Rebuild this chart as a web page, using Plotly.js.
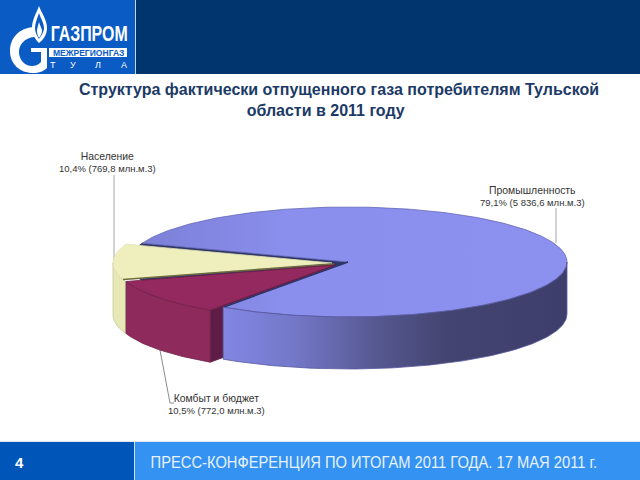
<!DOCTYPE html>
<html>
<head>
<meta charset="utf-8">
<script src="https://cdn.plot.ly/plotly-3.0.1.min.js"></script>
<style>html,body{margin:0;padding:0;background:#fff}#chart{width:640px;height:480px}</style>
</head>
<body>
<div id="chart"></div>
<script>
// ---- data
const categories = ['Население', 'Комбыт и бюджет', 'Промышленность'];
const sharesPct = [10.4, 10.5, 79.1];
const shareLabels = ['10,4%', '10,5%', '79,1%'];
const volumeLabels = ['769,8', '772,0', '5\u00A0836,6'];
const unitLabel = 'млн.м.3';
const titleLine1 = 'Структура фактически отпущенного газа потребителям Тульской';
const titleLine2 = 'области в 2011 году';
const footerText = 'ПРЕСС-КОНФЕРЕНЦИЯ ПО ИТОГАМ 2011 ГОДА. 17 МАЯ 2011 г.';
const pageNumber = '4';

// ---- pie geometry (style, not data)
const rx = 219, ry = 55, depth = 52, startAngle = 160;
const centres = [{x: 332, y: 263}, {x: 335, y: 265}, {x: 348, y: 262}];

const angles = [];
let a0 = startAngle;
sharesPct.forEach(s => { const a1 = a0 + s * 3.6; angles.push([a0, a1]); a0 = a1; });

const pt = (c, t, d = 0) => {
  const r = t * Math.PI / 180;
  return [c.x + rx * Math.cos(r), c.y - ry * Math.sin(r) + d];
};
const arc = (c, t0, t1, d = 0) => {
  const out = [], n = Math.max(2, Math.ceil(Math.abs(t1 - t0)));
  for (let i = 0; i <= n; i++) out.push(pt(c, t0 + (t1 - t0) * i / n, d));
  return out;
};
const wedge = (c, t0, t1) => [[c.x, c.y], ...arc(c, t0, t1), [c.x, c.y]];
const wall = (c, t0, t1) => [...arc(c, t0, t1), ...arc(c, t1, t0, depth), pt(c, t0)];
const inner = (c, t) => [[c.x, c.y], pt(c, t), pt(c, t, depth), [c.x, c.y + depth], [c.x, c.y]];

const poly = (pts, fill, line, extra = {}) => Object.assign({
  type: 'scatter', mode: 'lines', x: pts.map(p => p[0]), y: pts.map(p => p[1]),
  fill: 'toself', fillcolor: fill, line: {color: line, width: 0.8},
  hoverinfo: 'skip', showlegend: false
}, extra);
const stroke = (pts, color, width) => ({
  type: 'scatter', mode: 'lines', x: pts.map(p => p[0]), y: pts.map(p => p[1]),
  line: {color, width}, hoverinfo: 'skip', showlegend: false
});

const [yC, rC, bC] = centres;
const [yA, rA, bA] = angles;

const traces = [
  // leaders
  stroke([[114, 175], [114, 265]], '#a6a6a6', 1),
  stroke([[556, 208], [556, 243]], '#a6a6a6', 1),
  stroke([[160, 350], [170, 403], [174, 403]], '#8c8c8c', 1),
  // notch of the large slice
  poly(wedge(bC, bA[1] - 360, bA[0]), '#2f3768', '#2f3768'),
  // cut face of the burgundy slice
  poly(inner(rC, rA[1]), '#5e1c46', '#5e1c46'),
  // large slice
  poly(wedge(bC, bA[0], bA[1]), '#8a8eeb', '#6266b4', {
    fillgradient: {type: 'horizontal', start: 130, stop: 567,
      colorscale: [[0, '#7b7fd6'], [0.35, '#8a8eec'], [1, '#8c90ee']]}
  }),
  stroke([pt(bC, bA[0]), [bC.x, bC.y]], '#2f3768', 1.6),
  poly(wall(bC, bA[0], 360), '#6a6db8', '#585aa0', {
    fillgradient: {type: 'horizontal', start: 225, stop: 567,
      colorscale: [[0, '#8286e2'], [0.2, '#7478c8'], [0.45, '#55578f'], [0.65, '#434470'], [1, '#3d3e6c']]}
  }),
  // pale slice
  poly(wall(yC, 180, yA[1] + 2), '#e8e8b6', '#c8c89a'),
  poly(wedge(yC, yA[0], yA[1]), '#efefbe', '#e0e0b0'),
  stroke([pt(yC, yA[1]), [yC.x + 2, yC.y + 1]], '#6f6a3e', 1.6),
  // burgundy slice
  poly(wall(rC, rA[0], rA[1]), '#8f2b5c', '#6f2048'),
  poly(wedge(rC, rA[0], rA[1]), '#93295e', '#6f2048')
];

// ---- text
const labelPos = [
  {x: 107, y: 162, i: 0},
  {x: 216, y: 404, i: 1},
  {x: 532, y: 196, i: 2}
];
const labels = labelPos.map(p => ({
  xref: 'x', yref: 'y', x: p.x, y: p.y, showarrow: false, align: 'center',
  xanchor: 'center', yanchor: 'middle',
  text: '<span style="font-size:10.4px">' + categories[p.i] + '</span><br>' + shareLabels[p.i] + ' (' + volumeLabels[p.i] + ' ' + unitLabel + ')',
  font: {family: 'Liberation Sans, Arial, sans-serif', size: 9.5, color: '#333333'}
}));
const note = (x, y, text, size, color, extra = {}) => Object.assign({
  xref: 'x', yref: 'y', x, y, text, showarrow: false, xanchor: 'center', yanchor: 'middle',
  font: {family: 'Liberation Sans, Arial, sans-serif', size, color}
}, extra);
const annotations = labels.concat([
  note(19, 462, '<b>' + pageNumber + '</b>', 15, '#ffffff'),
  note(373.5, 462, footerText, 17, '#e8f2fc'),
  note(88.5, 33.5, '<b>ГАЗПРОМ</b>', 22, '#ffffff'),
  note(88.5, 52.5, '<b>МЕЖРЕГИОНГАЗ</b>', 9, '#0a5bc4'),
  note(53, 65, 'Т', 9, '#ffffff'),
  note(73, 65, 'У', 9, '#ffffff'),
  note(98, 65, 'Л', 9, '#ffffff'),
  note(124, 65, 'А', 9, '#ffffff')
]);

// ---- page furniture
const rect = (x0, y0, x1, y1, fill) => ({
  type: 'rect', xref: 'x', yref: 'y', x0, y0, x1, y1, fillcolor: fill, line: {width: 0}, layer: 'below'
});
const path = (d, fill) => ({
  type: 'path', xref: 'x', yref: 'y', path: d, fillcolor: fill, line: {width: 0}, layer: 'below'
});
const shapes = [
  rect(0, 0, 135, 74, '#0a5bc4'),
  rect(136, 0, 640, 74, '#00356e'),
  rect(135, 0, 136, 74, '#c8d8ea'),
  rect(0, 442, 134, 480, '#0055b8'),
  rect(135, 442, 640, 480, '#3392f2'),
  rect(134, 442, 135, 480, '#c8e0f8'),
  rect(0, 441, 640, 442, '#d8e8f8'),
  // logo: G ring
  path('M 34 27 C 19 28 10 38 10 51 C 10 64 20 73 33 73 C 39 73 44 71 47 68 L 47 48 L 31 48 L 31 52 L 41 52 L 41 62 C 38 65 35 66 32 66 C 25 66 19 60 19 52 C 19 44 25 38 34 37 Z', '#ffffff'),
  // logo: flame
  path('M 39 6 C 36 14 32 20 32 28 C 32 35 36 40 39 43 C 43 40 47 35 47 28 C 47 20 42 14 39 6 Z', '#ffffff'),
  path('M 39 13 C 37 19 35 23 35 28 C 35 32 37 36 39 39 C 41 36 44 32 44 28 C 44 23 41 19 39 13 Z', '#0a5bc4'),
  path('M 39 22 C 38 26 37 28 37 31 C 37 34 38 36 39 38 C 40 36 42 34 42 31 C 42 28 40 26 39 22 Z', '#ffffff'),
  rect(49, 48, 127, 57, '#ffffff')
];

const layout = {
  width: 640, height: 480,
  margin: {l: 0, r: 0, t: 0, b: 0},
  paper_bgcolor: '#ffffff', plot_bgcolor: '#ffffff',
  showlegend: false,
  xaxis: {range: [0, 640], visible: false, fixedrange: true},
  yaxis: {range: [480, 0], visible: false, fixedrange: true},
  title: {
    text: '<b>' + titleLine1 + '<br>' + titleLine2 + '\u00A0\u00A0\u00A0\u00A0\u00A0\u00A0</b>',
    xref: 'paper', yref: 'paper', x: 339 / 640, xanchor: 'center',
    y: 1 - 95 / 480, yanchor: 'top', pad: {t: 0, b: 0, l: 0, r: 0},
    font: {family: 'Liberation Sans, Arial, sans-serif', size: 16, color: '#1c3a66'}
  },
  annotations, shapes
};
// Condensed lettering of the footer and logo: no narrow face is installed, so the real text is scaled to its width.
const fitted = {[footerText]: 447, 'ГАЗПРОМ': 77, 'МЕЖРЕГИОНГАЗ': 72};
Plotly.newPlot('chart', traces, layout, {displayModeBar: false, staticPlot: true}).then(() => {
  document.querySelectorAll('.annotation-text').forEach(el => {
    const w = fitted[el.textContent];
    if (w) {
      const b = el.getBBox(), cx = b.x + b.width / 2;
      el.setAttribute('transform', `translate(${cx} 0) scale(${w / b.width} 1) translate(${-cx} 0)`);
    }
  });
});
</script>
</body>
</html>
